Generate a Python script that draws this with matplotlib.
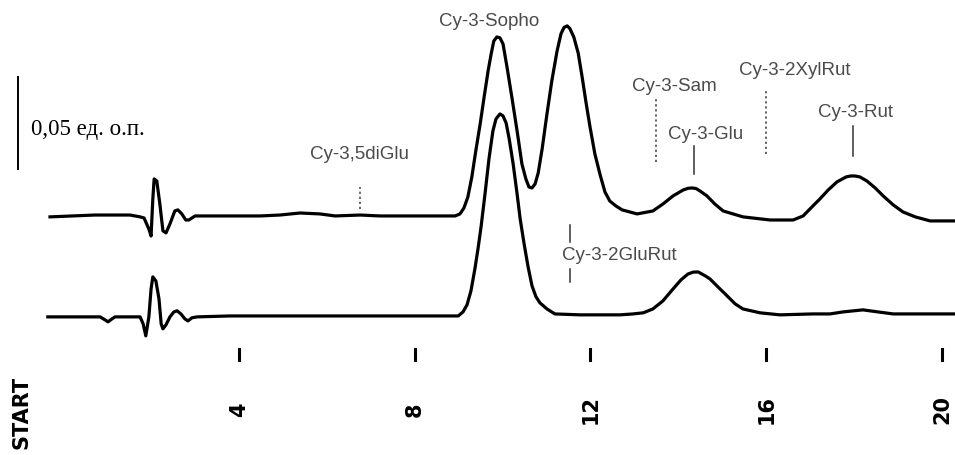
import matplotlib
matplotlib.use("Agg")
import matplotlib.pyplot as plt

# верхняя хроматограмма: время (мин) и поглощение (ед. о.п.) от базовой линии
upper_t = [-0.30, 0.72, 1.52, 1.75, 1.84, 1.95, 2.00, 2.04, 2.07, 2.13, 2.20, 2.27,
           2.34, 2.43, 2.54, 2.61, 2.70, 2.79, 2.86, 3.00, 3.57, 4.48, 4.93, 5.39,
           5.84, 6.19, 6.76, 7.21, 8.35, 8.92, 9.03, 9.12, 9.21, 9.30, 9.39, 9.49,
           9.58, 9.67, 9.74, 9.80, 9.87, 9.94, 10.01, 10.10, 10.21, 10.33, 10.44,
           10.53, 10.60, 10.67, 10.74, 10.81, 10.90, 11.01, 11.12, 11.24, 11.33,
           11.40, 11.47, 11.53, 11.62, 11.72, 11.81, 11.90, 11.99, 12.10, 12.22,
           12.33, 12.44, 12.58, 12.72, 13.06, 13.42, 13.65, 13.88, 14.11, 14.22,
           14.31, 14.40, 14.49, 14.65, 14.83, 15.02, 15.47, 16.09, 16.61, 16.84,
           17.04, 17.22, 17.41, 17.61, 17.82, 17.92, 18.02, 18.13, 18.29, 18.48,
           18.66, 18.89, 19.11, 19.39, 19.73, 20.30]
upper_a = [-0.0005, 0.0005, 0.0005, -0.0005, -0.0011, -0.0071, -0.0109, 0.0092,
           0.0201, 0.0190, 0.0065, -0.0081, -0.0092, -0.0043, 0.0027, 0.0033,
           0.0011, -0.0022, -0.0022, 0.0, 0.0, 0.0, 0.0005, 0.0016, 0.0011, 0.0,
           0.0005, 0.0, 0.0, 0.0, 0.0011, 0.0043, 0.0103, 0.0212, 0.0353, 0.0500,
           0.0646, 0.0787, 0.0880, 0.0950, 0.0972, 0.0967, 0.0934, 0.0809, 0.0646,
           0.0462, 0.0282, 0.0201, 0.0157, 0.0152, 0.0174, 0.0233, 0.0364, 0.0554,
           0.0733, 0.0896, 0.0990, 0.1024, 0.1032, 0.1018, 0.0972, 0.0885, 0.0755,
           0.0614, 0.0483, 0.0337, 0.0223, 0.0130, 0.0081, 0.0054, 0.0033, 0.0011,
           0.0027, 0.0065, 0.0109, 0.0141, 0.0150, 0.0152, 0.0149, 0.0136, 0.0109,
           0.0065, 0.0027, -0.0005, -0.0022, -0.0022, 0.0, 0.0049, 0.0092, 0.0141,
           0.0185, 0.0212, 0.0217, 0.0217, 0.0212, 0.0190, 0.0152, 0.0109, 0.0060,
           0.0022, -0.0005, -0.0027, -0.0027]

# нижняя хроматограмма
lower_t = [-0.35, 0.84, 0.95, 1.02, 1.11, 1.18, 1.75, 1.82, 1.88, 1.95, 2.00, 2.04,
           2.11, 2.18, 2.23, 2.27, 2.34, 2.43, 2.52, 2.59, 2.68, 2.77, 2.84, 2.93,
           3.05, 3.80, 5.39, 7.67, 8.99, 9.10, 9.19, 9.28, 9.37, 9.44, 9.51, 9.60,
           9.69, 9.78, 9.85, 9.94, 10.01, 10.08, 10.15, 10.24, 10.33, 10.40, 10.49,
           10.58, 10.67, 10.76, 10.85, 11.01, 11.19, 11.76, 12.67, 12.97, 13.20,
           13.42, 13.65, 13.88, 14.06, 14.22, 14.34, 14.45, 14.61, 14.72, 14.90,
           15.11, 15.29, 15.47, 15.86, 16.31, 17.06, 17.45, 17.75, 18.20, 18.54,
           18.89, 20.30]
lower_a = [0.0, 0.0, -0.0016, -0.0027, -0.0011, 0.0, 0.0, -0.0038, -0.0103, 0.0,
           0.0152, 0.0217, 0.0195, 0.0098, -0.0038, -0.0065, -0.0043, 0.0, 0.0027,
           0.0033, 0.0016, -0.0011, -0.0022, -0.0005, 0.0, 0.0005, 0.0005, 0.0005,
           0.0005, 0.0027, 0.0065, 0.0141, 0.0261, 0.0369, 0.0489, 0.0668, 0.0858,
           0.1010, 0.1075, 0.1102, 0.1091, 0.1053, 0.0967, 0.0831, 0.0668, 0.0532,
           0.0396, 0.0272, 0.0168, 0.0109, 0.0076, 0.0043, 0.0016, 0.0011, 0.0011,
           0.0016, 0.0022, 0.0043, 0.0087, 0.0152, 0.0201, 0.0233, 0.0243, 0.0244,
           0.0223, 0.0206, 0.0163, 0.0114, 0.0071, 0.0043, 0.0022, 0.0011, 0.0016,
           0.0016, 0.0027, 0.0038, 0.0027, 0.0016, 0.0016]
lower_offset = -0.0548

# ось времени
tick_times = [4, 8, 12, 16, 20]
tick_labels = ["4", "8", "12", "16", "20"]
start_label = "START"

# подписи пиков над верхней хроматограммой
peak_names = ["Cy-3,5diGlu", "Cy-3-Sopho", "Cy-3-Sam", "Cy-3-Glu",
              "Cy-3-2XylRut", "Cy-3-Rut"]
peak_text_t = [6.75, 9.69, 13.90, 14.63, 16.65, 18.04]
peak_text_a = [0.0337, 0.1059, 0.0706, 0.0445, 0.0793, 0.0565]
peak_marker_t = [6.75, None, 13.49, 14.36, 15.99, 17.97]
peak_marker_a = [(0.0038, 0.0157), None, (0.0293, 0.0635), (0.0228, 0.0380),
                 (0.0337, 0.0690), (0.0326, 0.0489)]
peak_marker_dotted = [True, False, True, False, True, False]

# Cy-3-2GluRut между хроматограммами
glurut_t = 11.53
glurut_text_t = 11.35
glurut_text_a = -0.0212
glurut_marks = [(-0.0141, -0.0049), (-0.0358, -0.0288)]

# масштаб по оси поглощения
scale_value = 0.05
scale_t = -1.03
scale_top = 0.0755
scale_text = "0,05 ед. о.п."

label_color = "#4a4a4a"
label_font = "Liberation Sans"


def main():
    fig = plt.figure(figsize=(9.55, 4.56), dpi=100)
    ax = fig.add_axes([0, 0, 1, 1])
    ax.set_xlim(-1.438, 20.296)
    ax.set_ylim(-0.1298, 0.1178)
    ax.axis("off")

    # хроматограммы
    ax.plot(upper_t, upper_a, color="black", lw=2.3, solid_joinstyle="round")
    ax.plot(lower_t, [a + lower_offset for a in lower_a], color="black", lw=2.3,
            solid_joinstyle="round")

    # подписи пиков
    for name, tx, ta, mt, ma, dotted in zip(peak_names, peak_text_t, peak_text_a,
                                           peak_marker_t, peak_marker_a,
                                           peak_marker_dotted):
        ax.text(tx, ta, name, ha="center", va="center", fontsize=13.5,
                family=label_font, color=label_color)
        if mt is None:
            continue
        if dotted:
            ax.plot([mt, mt], ma, color="#555555", lw=1.3, ls=(0, (1.2, 1.6)))
        else:
            ax.plot([mt, mt], ma, color="#333333", lw=1.1)

    ax.text(glurut_text_t, glurut_text_a, "Cy-3-2GluRut", ha="left", va="center",
            fontsize=13.5, family=label_font, color=label_color)
    for lo, hi in glurut_marks:
        ax.plot([glurut_t, glurut_t], [lo, hi], color="#333333", lw=1.1)

    # масштабная линейка
    ax.plot([scale_t, scale_t], [scale_top - scale_value, scale_top],
            color="black", lw=1.4)
    ax.text(scale_t + 0.30, 0.0475, scale_text,
            ha="left", va="center", fontsize=16.5, family="Liberation Serif")

    # ось времени
    for t, lab in zip(tick_times, tick_labels):
        ax.plot([t, t], [-0.0782, -0.0722], color="black", lw=2.2)
        ax.text(t, -0.1048, lab, rotation=90, ha="center", va="center",
                fontsize=15, fontweight="bold", family="DejaVu Sans")
    ax.text(-0.94, -0.1060, start_label, rotation=90, ha="center", va="center",
            fontsize=15, fontweight="bold", family="DejaVu Sans")

    fig.savefig("out.png", dpi=100)


if __name__ == "__main__":
    main()
